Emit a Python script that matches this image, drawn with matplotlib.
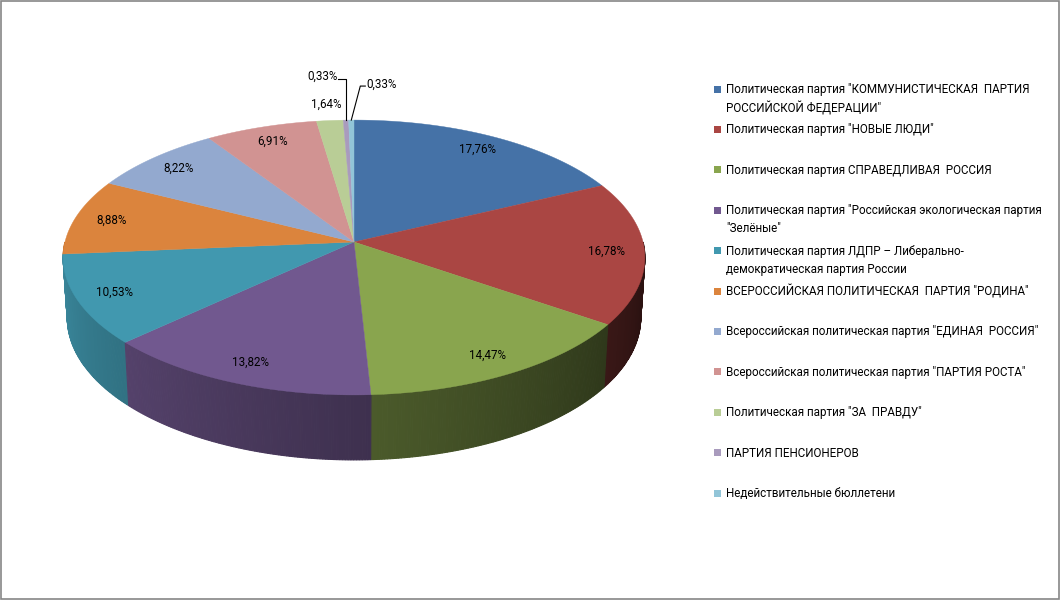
import numpy as np
import matplotlib.pyplot as plt
from matplotlib.patches import Polygon, Rectangle
from matplotlib.colors import to_rgb

plt.rcParams['font.family'] = ['Roboto', 'DejaVu Sans']

# data
parties = [
    'Политическая партия "КОММУНИСТИЧЕСКАЯ  ПАРТИЯ\nРОССИЙСКОЙ ФЕДЕРАЦИИ"',
    'Политическая партия "НОВЫЕ ЛЮДИ"',
    'Политическая партия СПРАВЕДЛИВАЯ  РОССИЯ',
    'Политическая партия "Российская экологическая партия\n"Зелёные"',
    'Политическая партия ЛДПР – Либерально-\nдемократическая партия России',
    'ВСЕРОССИЙСКАЯ ПОЛИТИЧЕСКАЯ  ПАРТИЯ "РОДИНА"',
    'Всероссийская политическая партия "ЕДИНАЯ  РОССИЯ"',
    'Всероссийская политическая партия "ПАРТИЯ РОСТА"',
    'Политическая партия "ЗА  ПРАВДУ"',
    'ПАРТИЯ ПЕНСИОНЕРОВ',
    'Недействительные бюллетени',
]
shares = [17.76, 16.78, 14.47, 13.82, 10.53, 8.88, 8.22, 6.91, 1.64, 0.33, 0.33]
colors = ['#4572A7', '#AA4643', '#89A54E', '#71588F', '#4198AF', '#DB843D',
          '#93A9CF', '#D19392', '#B9CD96', '#A99BBD', '#92C5D8']

FS = 8.4

# 3d pie projection (pixel space)
CX, CY = 354, 242
ELEV = np.radians(28)
C, S = np.cos(ELEV), np.sin(ELEV)
D, F = 7.83, 2263
H = 0.238


def project(t_deg, r, y):
    t = np.radians(t_deg)
    X = r * np.sin(t)
    Z = r * np.cos(t)
    yc = y * C + Z * S
    zc = D + Z * C - y * S
    return CX + F * X / zc, CY - F * yc / zc


fig = plt.figure(figsize=(10.61, 6.01), dpi=100)
ax = fig.add_axes([0, 0, 1, 1])
ax.set_xlim(0, 1061)
ax.set_ylim(601, 0)
ax.axis('off')

vals = np.array(shares)
cum = np.concatenate([[0], np.cumsum(vals / vals.sum())]) * 360
starts, ends = cum[:-1], cum[1:]

# side walls (painter's order, back to front)
strips = []
for i in range(len(vals)):
    a0, a1 = max(starts[i], 90), min(ends[i], 270)
    if a1 <= a0:
        continue
    n = max(2, int((a1 - a0) / 0.5) + 1)
    ts = np.linspace(a0, a1, n)
    base = np.array(to_rgb(colors[i]))
    for k in range(n - 1):
        tm = 0.5 * (ts[k] + ts[k + 1])
        f = np.clip(0.32 + 0.004 * (tm - 120), 0.26, 0.95)
        col = base * f
        x0, y0 = project(ts[k], 1, 0)
        x1, y1 = project(ts[k + 1], 1, 0)
        x2, y2 = project(ts[k + 1], 1, -H)
        x3, y3 = project(ts[k], 1, -H)
        strips.append((np.cos(np.radians(tm)),
                       [(x0, y0), (x1, y1), (x2, y2), (x3, y3)], col))
strips.sort(key=lambda s: -s[0])
for _, pts, col in strips:
    ax.add_patch(Polygon(pts, closed=True, facecolor=col, edgecolor=col, lw=0.8))

# top faces
for i in range(len(vals)):
    ts = np.linspace(starts[i], ends[i], max(3, int((ends[i] - starts[i]) / 0.5) + 2))
    xs, ys = project(ts, 1, 0)
    pts = [(CX, CY)] + list(zip(xs, ys))
    ax.add_patch(Polygon(pts, closed=True, facecolor=colors[i], edgecolor=colors[i], lw=0.3))

# data labels
for i, v in enumerate(shares):
    txt = f'{v:.2f}%'.replace('.', ',')
    mid = 0.5 * (starts[i] + ends[i])
    if v >= 3:
        x, y = project(mid, 0.87, 0)
        ax.text(x, y, txt, fontsize=FS, ha='center', va='center', color='black')
    elif v >= 1:
        x, y = project(mid, 1.15, 0)
        ax.text(x, y, txt, fontsize=FS, ha='center', va='center', color='black')
    else:
        x, y = project(mid, 1.0, 0)
        if i == len(shares) - 2:
            ex, ey = x, y - 41
            ax.plot([x, ex, ex - 8], [y, ey, ey], color='black', lw=0.8)
            ax.text(ex - 8, ey - 3, txt, fontsize=FS, ha='right', va='center')
        else:
            ex, ey = x + 9, y - 34
            ax.plot([x, ex, ex + 5], [y, ey, ey], color='black', lw=0.8)
            ax.text(ex + 6, ey - 2, txt, fontsize=FS, ha='left', va='center')

# legend
for i, name in enumerate(parties):
    ly = 89 + 40.4 * i
    ax.add_patch(Rectangle((714, ly - 3.5), 7, 7, facecolor=colors[i], edgecolor='none'))
    ax.text(726, ly - 6, name, fontsize=FS, ha='left', va='top',
            linespacing=1.5, color='black')

# outer frame
ax.add_patch(Rectangle((1, 1), 1058, 598, facecolor='none', edgecolor='#868686', lw=1.2))

fig.savefig('out.png', dpi=100)
